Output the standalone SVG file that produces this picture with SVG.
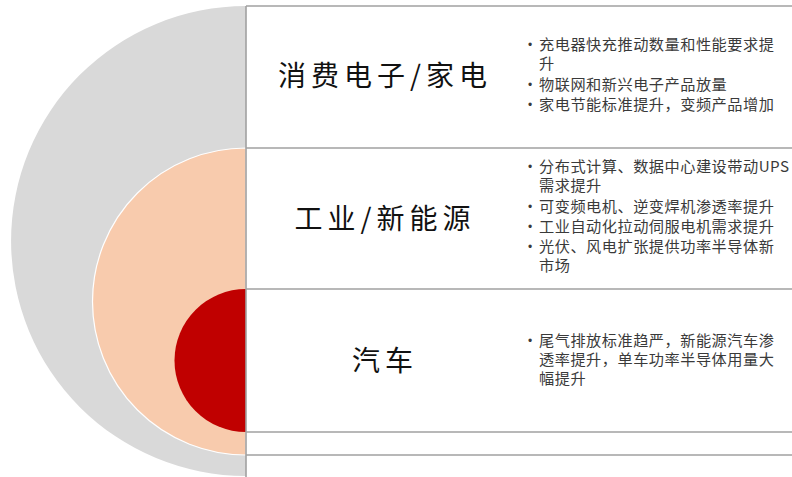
<svg xmlns="http://www.w3.org/2000/svg" width="792" height="477" viewBox="0 0 792 477">
<style>
.title{font-family:"Noto Sans CJK SC","Noto Sans",sans-serif;font-size:28px;fill:#111;letter-spacing:5px;text-anchor:middle}
.item{font-family:"Noto Sans CJK SC","Noto Sans",sans-serif;font-size:15.2px;letter-spacing:0.5px;fill:#3a3a3a}
.dot{font-family:"Liberation Sans",sans-serif;font-size:12px;fill:#3a3a3a}
.rule{stroke:#a0a0a0;stroke-width:1.6;fill:none}
</style>
<rect width="792" height="477" fill="#ffffff"/>
<g id="rings">
<path d="M246,6 A235,235 0 0 0 246,476 Z" fill="#d9d9d9"/>
<path d="M246,148 A153.5,153.5 0 0 0 246,455 Z" fill="#f8cbad" stroke="#ffffff" stroke-width="1.2"/>
<path d="M246,289 A71.5,71.5 0 0 0 246,432 Z" fill="#c00000"/>
</g>
<g id="connectors">
<line class="rule" x1="246" y1="6" x2="246" y2="477"/>
<line class="rule" x1="246" y1="6" x2="792" y2="6"/>
<line class="rule" x1="246" y1="148" x2="792" y2="148"/>
<line class="rule" x1="246" y1="289" x2="792" y2="289"/>
<line class="rule" x1="246" y1="432" x2="792" y2="432"/>
<line class="rule" x1="246" y1="455" x2="792" y2="455"/>
</g>
<g id="consumer">
<text class="title" x="385" y="86">消费电子/家电</text>
<text class="dot" x="528" y="49">•</text>
<text class="item" x="539" y="50">充电器快充推动数量和性能要求提</text>
<text class="item" x="539" y="69">升</text>
<text class="dot" x="528" y="89">•</text>
<text class="item" x="539" y="90">物联网和新兴电子产品放量</text>
<text class="dot" x="528" y="109">•</text>
<text class="item" x="539" y="110">家电节能标准提升，变频产品增加</text>
</g>
<g id="industry">
<text class="title" x="385" y="229">工业/新能源</text>
<text class="dot" x="528" y="171">•</text>
<text class="item" x="539" y="172">分布式计算、数据中心建设带动UPS</text>
<text class="item" x="539" y="191">需求提升</text>
<text class="dot" x="528" y="211">•</text>
<text class="item" x="539" y="212">可变频电机、逆变焊机渗透率提升</text>
<text class="dot" x="528" y="231">•</text>
<text class="item" x="539" y="232">工业自动化拉动伺服电机需求提升</text>
<text class="dot" x="528" y="251">•</text>
<text class="item" x="539" y="252">光伏、风电扩张提供功率半导体新</text>
<text class="item" x="539" y="271">市场</text>
</g>
<g id="auto">
<text class="title" x="385" y="371">汽车</text>
<text class="dot" x="528" y="345">•</text>
<text class="item" x="539" y="346">尾气排放标准趋严，新能源汽车渗</text>
<text class="item" x="539" y="365">透率提升，单车功率半导体用量大</text>
<text class="item" x="539" y="384">幅提升</text>
</g>
</svg>
